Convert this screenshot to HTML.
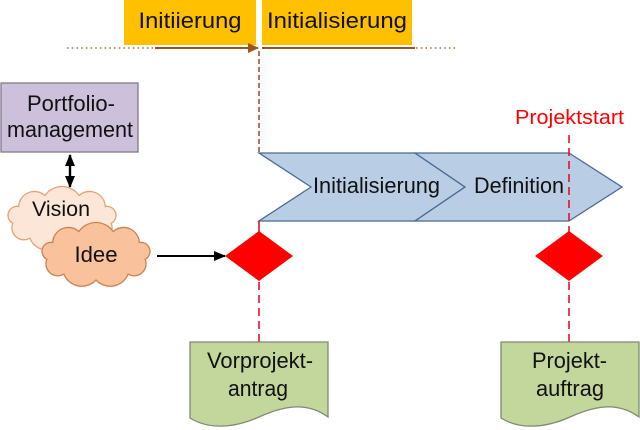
<!DOCTYPE html>
<html>
<head>
<meta charset="utf-8">
<style>
html,body{margin:0;padding:0;background:#fff;}
svg{display:block;}
text{font-family:"Liberation Sans",Arial,sans-serif;fill:#111;}
</style>
</head>
<body>
<svg width="640" height="430" viewBox="0 0 640 430" xmlns="http://www.w3.org/2000/svg">
  <defs>
    <marker id="ab" markerWidth="12" markerHeight="12" refX="11" refY="6" orient="auto" markerUnits="userSpaceOnUse">
      <path d="M0,1 L12,6 L0,11 Z" fill="#000"/>
    </marker>
    <marker id="abs" markerWidth="12" markerHeight="12" refX="1" refY="6" orient="auto" markerUnits="userSpaceOnUse">
      <path d="M12,1 L0,6 L12,11 Z" fill="#000"/>
    </marker>
    <marker id="br" markerWidth="12" markerHeight="12" refX="10" refY="6" orient="auto" markerUnits="userSpaceOnUse">
      <path d="M0,1 L11,6 L0,11 Z" fill="#9c5424"/>
    </marker>
  </defs>

  <!-- top orange boxes -->
  <rect x="124" y="0" width="132" height="45" fill="#ffc000"/>
  <rect x="262" y="0" width="150" height="45" fill="#ffc000"/>
  <text x="190" y="28" font-size="22" text-anchor="middle" textLength="103" lengthAdjust="spacingAndGlyphs">Initiierung</text>
  <text x="337" y="28" font-size="22" text-anchor="middle" textLength="140" lengthAdjust="spacingAndGlyphs">Initialisierung</text>

  <!-- brown timeline -->
  <line x1="67" y1="48" x2="155" y2="48" stroke="#b0703a" stroke-width="1.6" stroke-dasharray="1.6 3.1"/>
  <line x1="155" y1="48" x2="258" y2="48" stroke="#9c5424" stroke-width="2" marker-end="url(#br)"/>
  <line x1="262" y1="48" x2="415" y2="48" stroke="#9c5424" stroke-width="2"/>
  <line x1="416" y1="48" x2="456" y2="48" stroke="#b0703a" stroke-width="1.6" stroke-dasharray="1.6 3.1"/>
  <line x1="259" y1="51" x2="259" y2="153" stroke="#9c5424" stroke-width="1.6" stroke-dasharray="5 3"/>

  <!-- Portfolio box -->
  <rect x="1" y="83" width="137" height="69" fill="#ccc0da" stroke="#7f7a8a" stroke-width="1.3"/>
  <text x="71" y="111" font-size="22" text-anchor="middle" textLength="88" lengthAdjust="spacingAndGlyphs">Portfolio-</text>
  <text x="70" y="137" font-size="22" text-anchor="middle" textLength="126" lengthAdjust="spacingAndGlyphs">management</text>

  <!-- double arrow -->
  <line x1="70" y1="155" x2="70" y2="187" stroke="#000" stroke-width="2.4" marker-start="url(#abs)" marker-end="url(#ab)"/>

  <!-- clouds -->
  <path transform="translate(2,185)" d="M10.8 38.3 A9 9 0 0 1 16.7 21.5 A15.7 15.7 0 0 1 42.9 10.5 A20.7 20.7 0 0 1 77.1 10.5 A15.7 15.7 0 0 1 103.3 21.5 A9 9 0 0 1 109.2 38.3 A12 12 0 0 1 92.1 53.2 A19.3 19.3 0 0 1 60 59 A19.3 19.3 0 0 1 27.9 53.2 A12 12 0 0 1 10.8 38.3 Z" fill="#fce6d8" stroke="#e3a374" stroke-width="1.3"/>
  <text x="61" y="216" font-size="21" text-anchor="middle" textLength="58" lengthAdjust="spacingAndGlyphs">Vision</text>

  <path transform="translate(36,221)" d="M10.8 38.3 A9 9 0 0 1 16.7 21.5 A15.7 15.7 0 0 1 42.9 10.5 A20.7 20.7 0 0 1 77.1 10.5 A15.7 15.7 0 0 1 103.3 21.5 A9 9 0 0 1 109.2 38.3 A12 12 0 0 1 92.1 53.2 A19.3 19.3 0 0 1 60 59 A19.3 19.3 0 0 1 27.9 53.2 A12 12 0 0 1 10.8 38.3 Z" fill="#f9c29c" stroke="#c98352" stroke-width="1.3"/>
  <text x="96" y="262" font-size="22" text-anchor="middle" textLength="43" lengthAdjust="spacingAndGlyphs">Idee</text>

  <!-- Idee arrow -->
  <line x1="157" y1="256" x2="225" y2="256" stroke="#000" stroke-width="2" marker-end="url(#ab)"/>

  <!-- chevrons -->
  <path d="M259 153 L415 153 L465 187 L415 221 L259 221 L311 187 Z" fill="#b9cde4" stroke="#4a6a90" stroke-width="1.3"/>
  <path d="M415 153 L569 153 L622 187 L569 221 L415 221 L465 187 Z" fill="#b9cde4" stroke="#4a6a90" stroke-width="1.3"/>
  <text x="376.5" y="193" font-size="22" text-anchor="middle" textLength="127" lengthAdjust="spacingAndGlyphs">Initialisierung</text>
  <text x="519" y="193" font-size="22" text-anchor="middle" textLength="90" lengthAdjust="spacingAndGlyphs">Definition</text>

  <!-- Projektstart -->
  <text x="569.5" y="124" font-size="20" text-anchor="middle" textLength="109" lengthAdjust="spacingAndGlyphs" style="fill:#f00">Projektstart</text>
  <line x1="569" y1="135" x2="569" y2="232" stroke="#e8102a" stroke-width="1.6" stroke-dasharray="8 5"/>

  <!-- left milestone -->
  <line x1="259" y1="221" x2="259" y2="232" stroke="#e8102a" stroke-width="1.6"/>
  <path d="M259 231 L293 256 L259 281 L225 256 Z" fill="#ff0000"/>
  <line x1="259" y1="282" x2="259" y2="342" stroke="#e8102a" stroke-width="1.6" stroke-dasharray="8 5"/>

  <!-- right milestone -->
  <path d="M569 231 L603 256 L569 281 L535 256 Z" fill="#ff0000"/>
  <line x1="569" y1="282" x2="569" y2="342" stroke="#e8102a" stroke-width="1.6" stroke-dasharray="8 5"/>

  <!-- documents -->
  <path d="M190 342 L328 342 L328 417 C310 404 290 403 259 417 C230 430 206 428 190 418 Z" fill="#c3d69b" stroke="#7f8a70" stroke-width="1.3"/>
  <text x="260" y="368" font-size="22" text-anchor="middle" textLength="106" lengthAdjust="spacingAndGlyphs">Vorprojekt-</text>
  <text x="258" y="396" font-size="22" text-anchor="middle" textLength="60" lengthAdjust="spacingAndGlyphs">antrag</text>

  <path d="M501 342 L639 342 L639 417 C621 404 601 403 570 417 C541 430 517 428 501 418 Z" fill="#c3d69b" stroke="#7f8a70" stroke-width="1.3"/>
  <text x="569.5" y="368" font-size="22" text-anchor="middle" textLength="75" lengthAdjust="spacingAndGlyphs">Projekt-</text>
  <text x="570" y="396" font-size="22" text-anchor="middle" textLength="68" lengthAdjust="spacingAndGlyphs">auftrag</text>
</svg>
</body>
</html>
